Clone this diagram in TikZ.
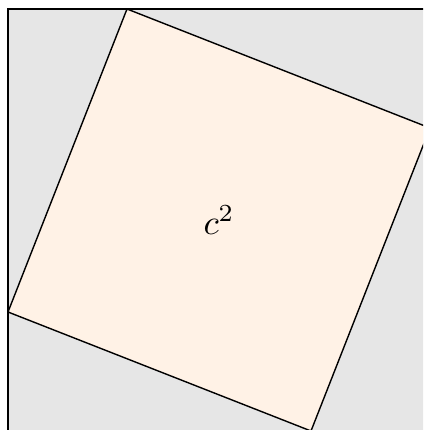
\documentclass[tikz,border=0pt]{standalone}
\usepackage{tikz}
\usetikzlibrary{calc}
\definecolor{boxgray}{HTML}{E6E6E6}
\definecolor{paleorange}{HTML}{FFF2E6}

\begin{document}
\begin{tikzpicture}
\useasboundingbox (-0.08,0.01) rectangle (4.15,4.31);
\clip (-0.08,0.01) rectangle (4.15,4.31);
\coordinate (O) at (0,0);
\coordinate (C) at (4.22,4.22);
\coordinate (T) at (1.19,4.22);
\coordinate (R) at (4.22,3.03);
\coordinate (B) at (3.03,0);
\coordinate (L) at (0,1.19);
\draw[fill=boxgray] (O) rectangle (C);
\draw[fill=paleorange] (T) -- (R) -- (B) -- (L) -- cycle;
\node (label) at (2.11,2.11) {$c^2$};
\end{tikzpicture}
\end{document}
